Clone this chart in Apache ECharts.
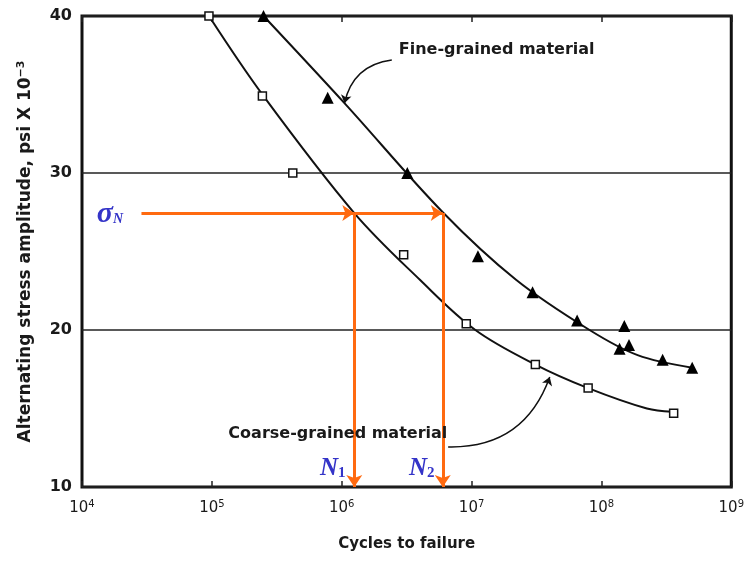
<!DOCTYPE html>
<html>
<head>
<meta charset="utf-8">
<script src="https://cdn.jsdelivr.net/npm/echarts@6/dist/echarts.min.js"></script>
<style>html,body{margin:0;padding:0;background:#fff}#main{width:747px;height:561px}</style>
</head>
<body>
<div id="main"></div>
<script>
// measured points (cycles, stress ksi)
var fineData = [[2.5e5, 40], [7.8e5, 34.8], [3.2e6, 30], [1.12e7, 24.7], [2.95e7, 22.4], [6.5e7, 20.6],
  [1.5e8, 20.25], [1.38e8, 18.8], [1.63e8, 19.05], [2.96e8, 18.1], [5e8, 17.6]];
var coarseData = [[9.5e4, 40], [2.45e5, 34.9], [4.2e5, 30], [3.0e6, 24.8], [9.1e6, 20.4], [3.1e7, 17.8],
  [7.9e7, 16.3], [3.6e8, 14.7]];
// hand drawn fit curves
var fineCurve = [[2.5e5, 40], [1.05e6, 34.45], [6.0e6, 27.5], [2.2e7, 23.2], [8.1e7, 20],
  [1.9e8, 18.4], [5e8, 17.6]];
var coarseCurve = [[9.5e4, 40], [2.45e5, 35], [1.25e6, 27.45], [4.0e6, 23.2], [1.07e7, 20],
  [3.1e7, 17.8], [7.9e7, 16.3], [2.24e8, 15.0], [3.5e8, 14.8]];
// sigma_N construction
var sigmaN = 27.45;
var sigmaStart = 2.87e4;
var N1 = 1.25e6;
var N2 = 6.0e6;
var yMin = 10;
// leader lines for the curve labels
var fineLeader = [[2.43e6, 37.2], [1.05e6, 34.45]];
var coarseLeader = [[6.6e6, 12.55], [4.0e7, 17.0]];
// text anchors
var fineLabelPos = [2.75e6, 37.83];
var coarseLabelPos = [1.34e5, 13.38];
var sigmaLabelPos = [1.3e4, 27.4];
var n1LabelPos = [6.8e5, 11.2];
var n2LabelPos = [3.3e6, 11.2];

var chart = echarts.init(document.getElementById('main'));
var font = '"DejaVu Sans", Verdana, sans-serif';
var serif = '"Liberation Serif", "Times New Roman", serif';
var orange = '#ff6a10';
var blue = '#3434c8';
var ink = '#1a1a1a';

function textPoint(pos, text, rich) {
  return {
    type: 'scatter', symbolSize: 0, silent: true, z: 5,
    data: [pos],
    itemStyle: { opacity: 1 },
    label: {
      show: true, position: 'inside', align: 'left', verticalAlign: 'middle',
      formatter: text, rich: rich,
      fontFamily: font, fontSize: 16, fontWeight: 'bold', color: ink
    }
  };
}

var option = {
  animation: false,
  backgroundColor: '#fff',
  grid: {
    left: 82, right: 9, top: 16, bottom: 74,
    show: true, borderColor: '#111', borderWidth: 3, backgroundColor: 'transparent'
  },
  xAxis: [{
    type: 'log', logBase: 10, min: 1e4, max: 1e9,
    name: 'Cycles to failure', nameLocation: 'middle', nameGap: 50,
    nameTextStyle: { fontFamily: font, fontSize: 15, fontWeight: 'bold', color: ink },
    axisLine: { show: false },
    axisTick: { show: true, inside: true, length: 6, lineStyle: { color: '#222', width: 1.5 } },
    minorTick: { show: false },
    splitLine: { show: false },
    axisLabel: {
      margin: 12,
      formatter: function (v) {
        return '{b|10}{s|' + Math.round(Math.log10(v)) + '}';
      },
      rich: {
        b: { fontFamily: font, fontSize: 15, color: ink },
        s: { fontFamily: font, fontSize: 10, color: ink, padding: [0, 0, 9, 0] }
      }
    }
  }, {
    type: 'log', logBase: 10, min: 1e4, max: 1e9, position: 'top',
    axisLine: { show: false },
    axisTick: { show: true, inside: true, length: 6, lineStyle: { color: '#222', width: 1.5 } },
    axisLabel: { show: false },
    splitLine: { show: false }
  }],
  yAxis: {
    type: 'value', min: 10, max: 40, interval: 10,
    name: '{a|Alternating stress amplitude, psi X 10}{s|\u22123}',
    nameLocation: 'middle', nameGap: 46,
    nameTextStyle: {
      rich: {
        a: { fontFamily: font, fontSize: 17, fontWeight: 'bold', color: ink },
        s: { fontFamily: font, fontSize: 11, fontWeight: 'bold', color: ink, padding: [0, 0, 9, 0] }
      }
    },
    axisLine: { show: false },
    axisTick: { show: false },
    axisLabel: { fontFamily: font, fontSize: 16, fontWeight: 'bold', color: ink, margin: 10 },
    splitLine: { show: true, lineStyle: { color: '#222', width: 1.5 } }
  },
  series: [
    {
      name: 'fine curve', type: 'line', data: fineCurve, smooth: 0.35, symbol: 'none',
      lineStyle: { color: '#111', width: 2 }, z: 2
    },
    {
      name: 'coarse curve', type: 'line', data: coarseCurve, smooth: 0.35, symbol: 'none',
      lineStyle: { color: '#111', width: 2 }, z: 2
    },
    {
      name: 'Fine-grained material', type: 'scatter', data: fineData, symbol: 'triangle', symbolSize: 12,
      itemStyle: { color: '#000', opacity: 1 }, z: 3
    },
    {
      name: 'Coarse-grained material', type: 'scatter', data: coarseData, symbol: 'rect', symbolSize: 8,
      itemStyle: { color: '#fff', borderColor: '#111', borderWidth: 1.5, opacity: 1 }, z: 3
    },
    {
      type: 'lines', coordinateSystem: 'cartesian2d', silent: true, z: 3,
      symbol: ['none', 'arrow'], symbolSize: 8,
      lineStyle: { color: '#111', width: 1.5, opacity: 1 },
      data: [
        { coords: fineLeader, lineStyle: { curveness: -0.35 } },
        { coords: coarseLeader, lineStyle: { curveness: -0.36 } }
      ]
    },
    {
      type: 'line', data: [], silent: true, z: 4,
      markLine: {
        silent: true, animation: false, symbol: ['none', 'arrow'], symbolSize: 12,
        label: { show: false },
        lineStyle: { color: orange, width: 3, type: 'solid' },
        data: [
          [{ coord: [sigmaStart, sigmaN] }, { coord: [N1, sigmaN] }],
          [{ coord: [N1, sigmaN] }, { coord: [N2, sigmaN] }],
          [{ coord: [N1, sigmaN] }, { coord: [N1, yMin] }],
          [{ coord: [N2, sigmaN] }, { coord: [N2, yMin] }]
        ]
      }
    },
    textPoint(fineLabelPos, 'Fine-grained material'),
    textPoint(coarseLabelPos, 'Coarse-grained material'),
    textPoint(sigmaLabelPos, '{g|\u03c3}{n|N}', {
      g: { fontFamily: serif, fontSize: 30, fontStyle: 'italic', color: blue },
      n: { fontFamily: serif, fontSize: 14, fontStyle: 'italic', color: blue, padding: [12, 0, 0, 0] }
    }),
    textPoint(n1LabelPos, '{g|N}{n|1}', {
      g: { fontFamily: serif, fontSize: 25, fontStyle: 'italic', color: blue },
      n: { fontFamily: serif, fontSize: 15, color: blue, padding: [10, 0, 0, 0] }
    }),
    textPoint(n2LabelPos, '{g|N}{n|2}', {
      g: { fontFamily: serif, fontSize: 25, fontStyle: 'italic', color: blue },
      n: { fontFamily: serif, fontSize: 15, color: blue, padding: [10, 0, 0, 0] }
    })
  ]
};

chart.setOption(option);
</script>
</body>
</html>
